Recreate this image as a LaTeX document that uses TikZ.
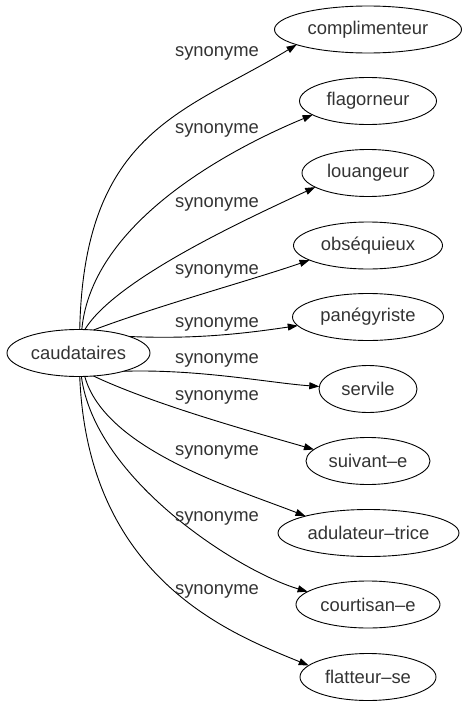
\documentclass[tikz,border=0pt]{standalone}
\usepackage{fontspec}
\setmainfont{Liberation Sans}
\usetikzlibrary{arrows.meta,shapes.geometric}
\definecolor{txt}{HTML}{333333}
\begin{document}
\begin{tikzpicture}[x=1pt,y=-1pt,
  word/.style={ellipse, draw, line width=0.9pt, inner sep=0pt, outer sep=0pt,
    minimum height=47pt, text=txt, font=\fontsize{18.4}{22}\selectfont},
  rel/.style={-{Triangle[length=10pt,width=7pt]}, line width=0.9pt},
  lab/.style={anchor=base, inner sep=0pt, text=txt, font=\fontsize{18.4}{22}\selectfont}]
\useasboundingbox (0,0) rectangle (466,707);
\node[word, minimum width=143pt] (src) at (78.5,353) {caudataires};
\node[word, minimum width=187pt] (t1) at (368,29.5) {complimenteur};
\node[word, minimum width=137pt] (t2) at (368,101) {flagorneur};
\node[word, minimum width=132pt] (t3) at (368,173) {louangeur};
\node[word, minimum width=149pt] (t4) at (368,245.5) {obséquieux};
\node[word, minimum width=151pt] (t5) at (368,317) {panégyriste};
\node[word, minimum width=98pt] (t6) at (368,389) {servile};
\node[word, minimum width=124pt] (t7) at (368,461) {suivant–e};
\node[word, minimum width=181pt] (t8) at (368.5,533) {adulateur–trice};
\node[word, minimum width=144pt] (t9) at (368,604.5) {courtisan–e};
\node[word, minimum width=136pt] (t10) at (368,677) {flatteur–se};

\draw[rel] (src.87) .. controls (84,130) and (186,112) .. (t1.192.3);
\draw[rel] (src.82) .. controls (92,220) and (235,147) .. (t2.194.3);
\draw[rel] (src.75) .. controls (115,280) and (241,221.5) .. (t3.195.5);
\draw[rel] (src.57) .. controls (160,305) and (252,280) .. (t4.194.7);
\draw[rel] (src.18) .. controls (196,339.5) and (246,333.3) .. (t5.187.9);
\draw[rel] (src.-22) .. controls (200,369) and (270,383) .. (t6.177.7);
\draw[rel] (src.-57) .. controls (155,405) and (254.6,432.4) .. (t7.168.9);
\draw[rel] (src.-75) .. controls (105,450) and (236.4,489) .. (t8.165.9);
\draw[rel] (src.-83) .. controls (95,480) and (239,571.4) .. (t9.168.6);
\draw[rel] (src.-87) .. controls (88,580) and (232,634) .. (t10.169);

\node[lab] (l1) at (217,56) {synonyme};
\node[lab] (l2) at (217,133) {synonyme};
\node[lab] (l3) at (217,207) {synonyme};
\node[lab] (l4) at (217,274) {synonyme};
\node[lab] (l5) at (217,327) {synonyme};
\node[lab] (l6) at (217,363) {synonyme};
\node[lab] (l7) at (217,400) {synonyme};
\node[lab] (l8) at (217,455) {synonyme};
\node[lab] (l9) at (217,521) {synonyme};
\node[lab] (l10) at (217,594) {synonyme};
\end{tikzpicture}
\end{document}
